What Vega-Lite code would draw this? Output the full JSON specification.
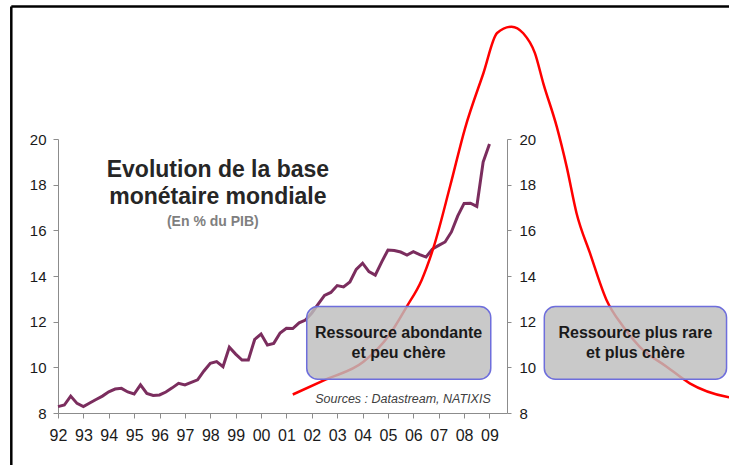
{
  "$schema": "https://vega.github.io/schema/vega-lite/v6.json",
  "width": 449,
  "height": 274,
  "autosize": {"type": "none"},
  "padding": {"left": 58, "top": 139, "right": 222, "bottom": 52},
  "background": "white",
  "config": {"view": {"stroke": null}, "font": "Liberation Sans"},
  "datasets": {
    "frame": [
      {"x": 1990.16, "x2": 2018.6, "y": 25.8, "y2": 25.8},
      {"x": 1990.16, "x2": 1990.16, "y": 25.8, "y2": 5.5}
    ],
    "money": [
      {"year": 1992.0, "value": 8.28}, {"year": 1992.25, "value": 8.35}, {"year": 1992.5, "value": 8.74}, {"year": 1992.75, "value": 8.42},
      {"year": 1993.0, "value": 8.28}, {"year": 1993.25, "value": 8.44}, {"year": 1993.5, "value": 8.59}, {"year": 1993.75, "value": 8.74},
      {"year": 1994.0, "value": 8.93}, {"year": 1994.25, "value": 9.05}, {"year": 1994.5, "value": 9.08}, {"year": 1994.75, "value": 8.92},
      {"year": 1995.0, "value": 8.83}, {"year": 1995.25, "value": 9.23}, {"year": 1995.5, "value": 8.86}, {"year": 1995.75, "value": 8.77},
      {"year": 1996.0, "value": 8.79}, {"year": 1996.25, "value": 8.92}, {"year": 1996.5, "value": 9.1}, {"year": 1996.75, "value": 9.3},
      {"year": 1997.0, "value": 9.23}, {"year": 1997.25, "value": 9.34}, {"year": 1997.5, "value": 9.45}, {"year": 1997.75, "value": 9.84},
      {"year": 1998.0, "value": 10.18}, {"year": 1998.25, "value": 10.25}, {"year": 1998.5, "value": 10.03}, {"year": 1998.75, "value": 10.88},
      {"year": 1999.0, "value": 10.58}, {"year": 1999.25, "value": 10.32}, {"year": 1999.5, "value": 10.32}, {"year": 1999.75, "value": 11.22},
      {"year": 2000.0, "value": 11.46}, {"year": 2000.25, "value": 10.98}, {"year": 2000.5, "value": 11.05}, {"year": 2000.75, "value": 11.5},
      {"year": 2001.0, "value": 11.71}, {"year": 2001.25, "value": 11.7}, {"year": 2001.5, "value": 11.95}, {"year": 2001.75, "value": 12.07},
      {"year": 2002.0, "value": 12.38}, {"year": 2002.25, "value": 12.77}, {"year": 2002.5, "value": 13.15}, {"year": 2002.75, "value": 13.28},
      {"year": 2003.0, "value": 13.58}, {"year": 2003.25, "value": 13.52}, {"year": 2003.5, "value": 13.74}, {"year": 2003.75, "value": 14.29},
      {"year": 2004.0, "value": 14.56}, {"year": 2004.25, "value": 14.19}, {"year": 2004.5, "value": 14.04}, {"year": 2004.75, "value": 14.61},
      {"year": 2005.0, "value": 15.14}, {"year": 2005.25, "value": 15.12}, {"year": 2005.5, "value": 15.05}, {"year": 2005.75, "value": 14.92},
      {"year": 2006.0, "value": 15.07}, {"year": 2006.25, "value": 14.94}, {"year": 2006.5, "value": 14.83}, {"year": 2006.75, "value": 15.18},
      {"year": 2007.0, "value": 15.34}, {"year": 2007.25, "value": 15.49}, {"year": 2007.5, "value": 15.93}, {"year": 2007.75, "value": 16.63},
      {"year": 2008.0, "value": 17.18}, {"year": 2008.25, "value": 17.19}, {"year": 2008.5, "value": 17.05}, {"year": 2008.75, "value": 18.99},
      {"year": 2009.0, "value": 19.78}
    ],
    "curve": [
      {"t": 2001.25, "v": 8.81}, {"t": 2002.56, "v": 9.47}, {"t": 2004.02, "v": 10.23}, {"t": 2005.08, "v": 11.46},
      {"t": 2005.74, "v": 12.66}, {"t": 2006.33, "v": 13.83}, {"t": 2006.79, "v": 15.23}, {"t": 2007.45, "v": 17.94},
      {"t": 2008.04, "v": 20.48}, {"t": 2008.76, "v": 22.88}, {"t": 2009.3, "v": 24.64}, {"t": 2009.87, "v": 24.92},
      {"t": 2010.33, "v": 24.63}, {"t": 2010.79, "v": 23.76}, {"t": 2011.12, "v": 22.44}, {"t": 2011.65, "v": 20.54},
      {"t": 2012.04, "v": 18.79}, {"t": 2012.43, "v": 16.75}, {"t": 2012.96, "v": 15.0}, {"t": 2013.61, "v": 12.95},
      {"t": 2014.27, "v": 11.78}, {"t": 2014.92, "v": 10.9}, {"t": 2015.98, "v": 10.03}, {"t": 2016.89, "v": 9.3},
      {"t": 2018.34, "v": 8.71}, {"t": 2018.6, "v": 8.66}
    ],
    "boxes": [
      {"x1": 2001.8, "x2": 2009.05, "y1": 12.66, "y2": 9.48, "cx": 2005.42, "cy": 11.49, "label": "Ressource abondante\net peu chère"},
      {"x1": 2011.16, "x2": 2018.34, "y1": 12.66, "y2": 9.48, "cx": 2014.75, "cy": 11.49, "label": "Ressource plus rare\net plus chère"}
    ],
    "title": [{"x": 1998.3, "y": 18.64, "text": "Evolution de la base\nmonétaire mondiale"}],
    "subtitle": [{"x": 1998.1, "y": 16.38, "text": "(En % du PIB)"}],
    "source": [{"x": 2009.05, "y": 8.61, "text": "Sources : Datastream, NATIXIS"}]
  },
  "resolve": {"scale": {"y": "independent"}, "axis": {"x": "independent"}},
  "layer": [
    {
      "data": {"name": "frame"},
      "mark": {"type": "rule", "color": "black", "strokeWidth": 2.5},
      "encoding": {
        "x": {"field": "x", "type": "quantitative", "title": null, "axis": null},
        "x2": {"field": "x2"},
        "y": {"field": "y", "type": "quantitative", "axis": null, "scale": {"domain": [8, 20], "nice": false, "zero": false}},
        "y2": {"field": "y2"}
      }
    },
    {
      "data": {"name": "money"},
      "mark": {"type": "line", "color": "#7b2d5e", "strokeWidth": 3},
      "encoding": {
        "x": {
          "field": "year", "type": "quantitative", "title": null,
          "scale": {"domain": [1992, 2009.69], "nice": false, "zero": false},
          "axis": {
            "values": [1992, 1993, 1994, 1995, 1996, 1997, 1998, 1999, 2000, 2001, 2002, 2003, 2004, 2005, 2006, 2007, 2008, 2009],
            "format": "d", "labelExpr": "slice(datum.label, 2)", "grid": false,
            "domainColor": "#8c8c8c", "tickColor": "#8c8c8c", "tickSize": 5, "labelFontSize": 16,
            "labelColor": "#1a1a1a", "labelPadding": 9, "labelFlush": false, "labelOverlap": false, "labelBound": false
          }
        },
        "y": {
          "field": "value", "type": "quantitative", "title": null,
          "scale": {"domain": [8, 20], "nice": false, "zero": false},
          "axis": {
            "orient": "left", "values": [8, 10, 12, 14, 16, 18, 20], "grid": false,
            "domainColor": "#8c8c8c", "tickColor": "#8c8c8c", "tickSize": 5, "labelFontSize": 15,
            "labelColor": "#1a1a1a", "labelPadding": 7, "labelFlush": false
          }
        }
      }
    },
    {
      "data": {"name": "curve"},
      "mark": {"type": "line", "color": "#ff0000", "strokeWidth": 2.5, "interpolate": "monotone", "clip": false},
      "encoding": {
        "x": {"field": "t", "type": "quantitative", "title": null, "axis": null},
        "y": {
          "field": "v", "type": "quantitative", "title": null,
          "scale": {"domain": [8, 20], "nice": false, "zero": false},
          "axis": {
            "orient": "right", "values": [8, 10, 12, 14, 16, 18, 20], "grid": false,
            "domainColor": "#8c8c8c", "tickColor": "#8c8c8c", "tickSize": 4, "labelFontSize": 15,
            "labelColor": "#1a1a1a", "labelPadding": 8, "labelFlush": false
          }
        }
      }
    },
    {
      "data": {"name": "boxes"},
      "mark": {"type": "rect", "fill": "#bdbdbd", "fillOpacity": 0.82, "stroke": "#6e6edc", "strokeWidth": 1.5, "cornerRadius": 11},
      "encoding": {
        "x": {"field": "x1", "type": "quantitative", "title": null, "axis": null},
        "x2": {"field": "x2"},
        "y": {"field": "y1", "type": "quantitative", "axis": null, "scale": {"domain": [8, 20], "nice": false, "zero": false}},
        "y2": {"field": "y2"}
      }
    },
    {
      "data": {"name": "boxes"},
      "mark": {"type": "text", "fontWeight": "bold", "fontSize": 16, "color": "#1a1a1a", "lineBreak": "\n", "lineHeight": 20, "align": "center", "baseline": "middle"},
      "encoding": {
        "x": {"field": "cx", "type": "quantitative", "title": null, "axis": null},
        "y": {"field": "cy", "type": "quantitative", "axis": null, "scale": {"domain": [8, 20], "nice": false, "zero": false}},
        "text": {"field": "label"}
      }
    },
    {
      "data": {"name": "title"},
      "mark": {"type": "text", "fontWeight": "bold", "fontSize": 23, "color": "#262626", "lineBreak": "\n", "lineHeight": 27, "align": "center", "baseline": "middle"},
      "encoding": {
        "x": {"field": "x", "type": "quantitative", "title": null, "axis": null},
        "y": {"field": "y", "type": "quantitative", "axis": null, "scale": {"domain": [8, 20], "nice": false, "zero": false}},
        "text": {"field": "text"}
      }
    },
    {
      "data": {"name": "subtitle"},
      "mark": {"type": "text", "fontWeight": "bold", "fontSize": 14, "color": "#7f7f7f", "align": "center", "baseline": "middle"},
      "encoding": {
        "x": {"field": "x", "type": "quantitative", "title": null, "axis": null},
        "y": {"field": "y", "type": "quantitative", "axis": null, "scale": {"domain": [8, 20], "nice": false, "zero": false}},
        "text": {"field": "text"}
      }
    },
    {
      "data": {"name": "source"},
      "mark": {"type": "text", "fontStyle": "italic", "fontSize": 12.5, "color": "#404040", "align": "right", "baseline": "middle"},
      "encoding": {
        "x": {"field": "x", "type": "quantitative", "title": null, "axis": null},
        "y": {"field": "y", "type": "quantitative", "axis": null, "scale": {"domain": [8, 20], "nice": false, "zero": false}},
        "text": {"field": "text"}
      }
    }
  ]
}
